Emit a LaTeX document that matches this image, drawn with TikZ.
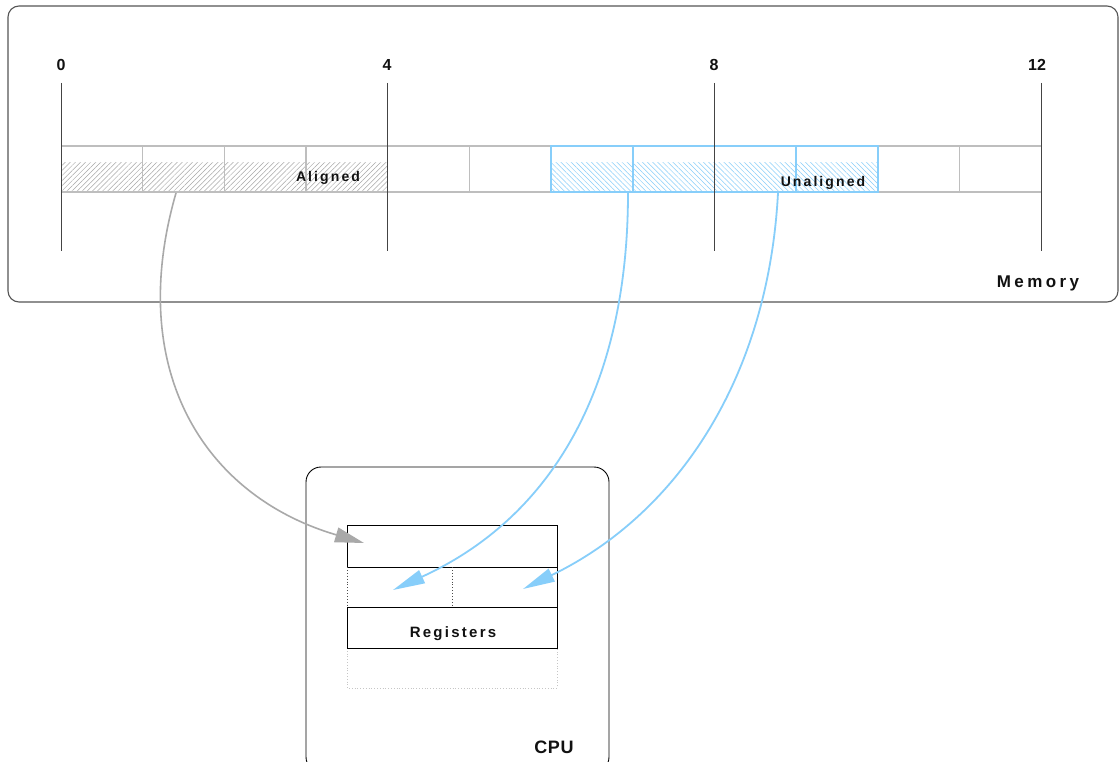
\documentclass[tikz,border=0pt]{standalone}
\usepackage{fontspec}
\setmainfont{Liberation Sans}
\newfontfamily\lblfont[LetterSpace=15]{Liberation Sans}
\newfontfamily\memfont[LetterSpace=20]{Liberation Sans}
\newfontfamily\cpufont[LetterSpace=4]{Liberation Sans}
\usetikzlibrary{arrows.meta,patterns.meta}
\definecolor{skyb}{HTML}{87CEFA}
\definecolor{cellgray}{HTML}{BEBEBE}
\definecolor{hatchgray}{HTML}{A8A8A8}
\definecolor{arrgray}{HTML}{A9A9A9}
\definecolor{memline}{HTML}{555555}
\definecolor{tickc}{HTML}{444444}
\definecolor{txt}{HTML}{111111}
\tikzset{
  boxline/.style={draw=memline,line width=1.1pt},
  cpuline/.style={draw=black,line width=0.9pt},
  tickline/.style={draw=tickc,line width=1pt},
  cellline/.style={draw=cellgray,line width=1.3pt},
  blueline/.style={draw=skyb,line width=1.3pt},
  graycurve/.style={draw=arrgray,line width=1.6pt,-{Triangle[length=29pt,width=15pt]}},
  bluecurve/.style={draw=skyb,line width=1.8pt,-{Triangle[length=32pt,width=14pt]}},
  digit/.style={anchor=base,inner sep=0pt,font=\fontsize{16}{18}\selectfont\bfseries,text=txt},
  lbl/.style={anchor=base,inner sep=0pt,font=\fontsize{14}{16}\lblfont\bfseries,text=txt},
  memlbl/.style={anchor=base,inner sep=0pt,font=\fontsize{17}{19}\memfont\bfseries,text=txt},
  cpulbl/.style={anchor=base,inner sep=0pt,font=\fontsize{18}{20}\cpufont\bfseries,text=txt},
  reglbl/.style={anchor=base,inner sep=0pt,font=\fontsize{15}{17}\lblfont\bfseries,text=txt},
  regrow/.style={draw=black,line width=0.9pt},
}
\begin{document}
\begin{tikzpicture}[x=1pt,y=-1pt]
\clip (0,0) rectangle (1119,762);
\fill[white] (0,0) rectangle (1119,762);

% Memory box
\draw[boxline,rounded corners=11pt] (8,6) rectangle (1118,302);
\node[memlbl] (memory) at (1038,287) {Memory};

% hatching
\fill[pattern={Lines[angle=45,distance=3.6pt,line width=0.5pt]},pattern color=hatchgray] (61,163) rectangle (387,192);
\fill[pattern={Lines[angle=-45,distance=3.6pt,line width=0.5pt]},pattern color=skyb] (551,163) rectangle (878,192);

% cells
\draw[cellline] (61,146) -- (1041,146);
\draw[cellline] (61,192) -- (1041,192);
\foreach \i in {1,...,11} {
  \draw[cellline] ({61+\i*81.667},146) -- ({61+\i*81.667},192);
}
\draw[blueline] (551,146) rectangle (878,192);
\draw[blueline] (633,146) -- (633,192);
\draw[blueline] (796,146) -- (796,192);

% ticks and numbers
\foreach \x/\n/\lx in {61/0/61,387/4/387,714/8/714,1041/12/1037} {
  \draw[tickline] (\x,83) -- (\x,251);
  \node[digit] (d\n) at (\lx,71) {\n};
}

\node[lbl] (aligned) at (328,182) {Aligned};
\node[lbl] (unaligned) at (823,187) {Unaligned};

% CPU box
\draw[cpuline,rounded corners=15pt] (306,467) rectangle (609,772);
\node[cpulbl] (cpu) at (554,753) {CPU};

% registers
\draw[draw=gray!45,line width=0.8pt,dotted] (347,648) rectangle (557,688);
\draw[regrow] (347,567) -- (347,525) -- (557,525) -- (557,648) -- (347,648) -- (347,607);
\draw[regrow] (347,567) -- (557,567);
\draw[regrow] (347,607) -- (557,607);
\draw[draw=black!70,line width=0.9pt,dotted] (347,567) -- (347,607);
\draw[draw=black!70,line width=0.9pt,dotted] (452,567) -- (452,607);
\node[reglbl] (registers) at (453,637) {Registers};

% connector end points
\coordinate (src0) at (176,193);
\coordinate (src1) at (628,193);
\coordinate (src2) at (778,193);
\coordinate (dst0) at (364,543);
\coordinate (dst1) at (393,590);
\coordinate (dst2) at (523,589);

% arrows
\draw[graycurve] (src0) .. controls (125,370) and (204,496) .. (dst0);
\draw[bluecurve] (src1) .. controls (628,380) and (557,515) .. (dst1);
\draw[bluecurve] (src2) .. controls (768,380) and (676,515) .. (dst2);
\end{tikzpicture}
\end{document}
